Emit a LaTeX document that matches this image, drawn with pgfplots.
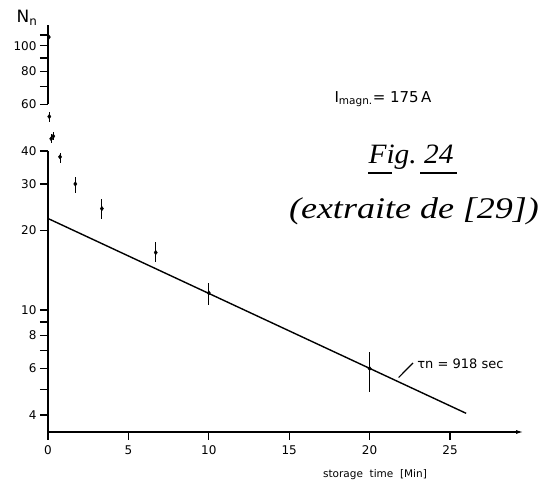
\documentclass[border=0pt]{standalone}
\usepackage{fontspec}
\setmainfont{DejaVu Sans}
\newfontfamily\hand{Liberation Serif}
\usepackage{pgfplots}
\pgfplotsset{compat=1.18}
\usetikzlibrary{arrows.meta}
\begin{document}
\begin{tikzpicture}[x=1pt,y=1pt]
\useasboundingbox (0,0) rectangle (555,484);
\begin{axis}[
  at={(48pt,52pt)}, anchor=south west, scale only axis,
  width=476pt, height=407pt,
  ymode=log, xmin=0, xmax=29.6, ymin=3.45, ymax=120,
  axis x line=bottom, axis y line=left,
  x axis line style={line width=1.5pt, -{Latex[length=8pt,width=4pt]}},
  y axis line style={draw=none},
  tick align=outside, major tick length=8pt, minor tick length=8pt,
  every tick/.style={line width=1.2pt, black},
  xtick={0,5,10,15,20,25},
  xticklabels={0,5,10,15,20,25},
  ytick={4,6,8,10,20,30,40,60,80,100},
  yticklabels={4,6,8,10,20,30,40,60,80,100},
  minor ytick={5,7,9,70,90,110},
  ticklabel style={font=\fontsize{12}{12}\selectfont},
  xticklabel style={yshift=-2pt},
  clip=false,
]
\addplot[only marks, mark=diamond*, mark size=2.2pt, black,
  error bars/.cd, y dir=both, y explicit, error mark=none,
  error bar style={line width=1.1pt, black}]
 coordinates {
  (0.05,108) += (0,7) -= (0,6)
  (0.08,54) += (0,2) -= (0,2.3)
  (0.2,44.5) += (0,1.7) -= (0,1.5)
  (0.33,45.5) += (0,1.7) -= (0,1.5)
  (0.75,38) += (0,1.4) -= (0,2.1)
  (1.7,30) += (0,2) -= (0,2.3)
  (3.35,24.2) += (0,2.1) -= (0,2.1)
  (6.7,16.5) += (0,1.6) -= (0,1.3)
  (10,11.6) += (0,1.1) -= (0,1.2)
  (20,6.0) += (0,0.95) -= (0,1.1)
 };
\addplot[black, line width=1.4pt, no marks] coordinates {(0,22.2) (26,4.06)};
\draw[line width=1.5pt] (axis cs:0,3.45) -- (axis cs:0,40);
\draw[line width=1.5pt] (axis cs:0,60) -- (axis cs:0,120);
\draw[line width=1.1pt] (axis cs:21.8,5.55) -- (axis cs:22.7,6.3);
\node[anchor=west, font=\fontsize{13}{13}\selectfont] at (axis cs:22.75,6.25) {τn = 918 sec};
\end{axis}
\node[font=\fontsize{17}{17}\selectfont] at (27,466) {N\textsubscript{n}};
\node[anchor=west, font=\fontsize{15}{15}\selectfont] at (331,385) {I\textsubscript{magn.}= 175\,A};
\node[font=\hand\itshape\fontsize{28}{28}\selectfont, xscale=1.05] at (411,327) {Fig.\ 24};
\draw[line width=1.3pt] (368,311) -- (392,311);
\draw[line width=1.3pt] (420,311) -- (457,311);
\node[font=\hand\itshape\fontsize{30}{30}\selectfont, xscale=1.2] at (414,273) {(extraite de [29])};
\node[font=\fontsize{10.5}{10.5}\selectfont] at (375,9) {storage\ \ time\ \ [Min]};
\end{tikzpicture}
\end{document}
